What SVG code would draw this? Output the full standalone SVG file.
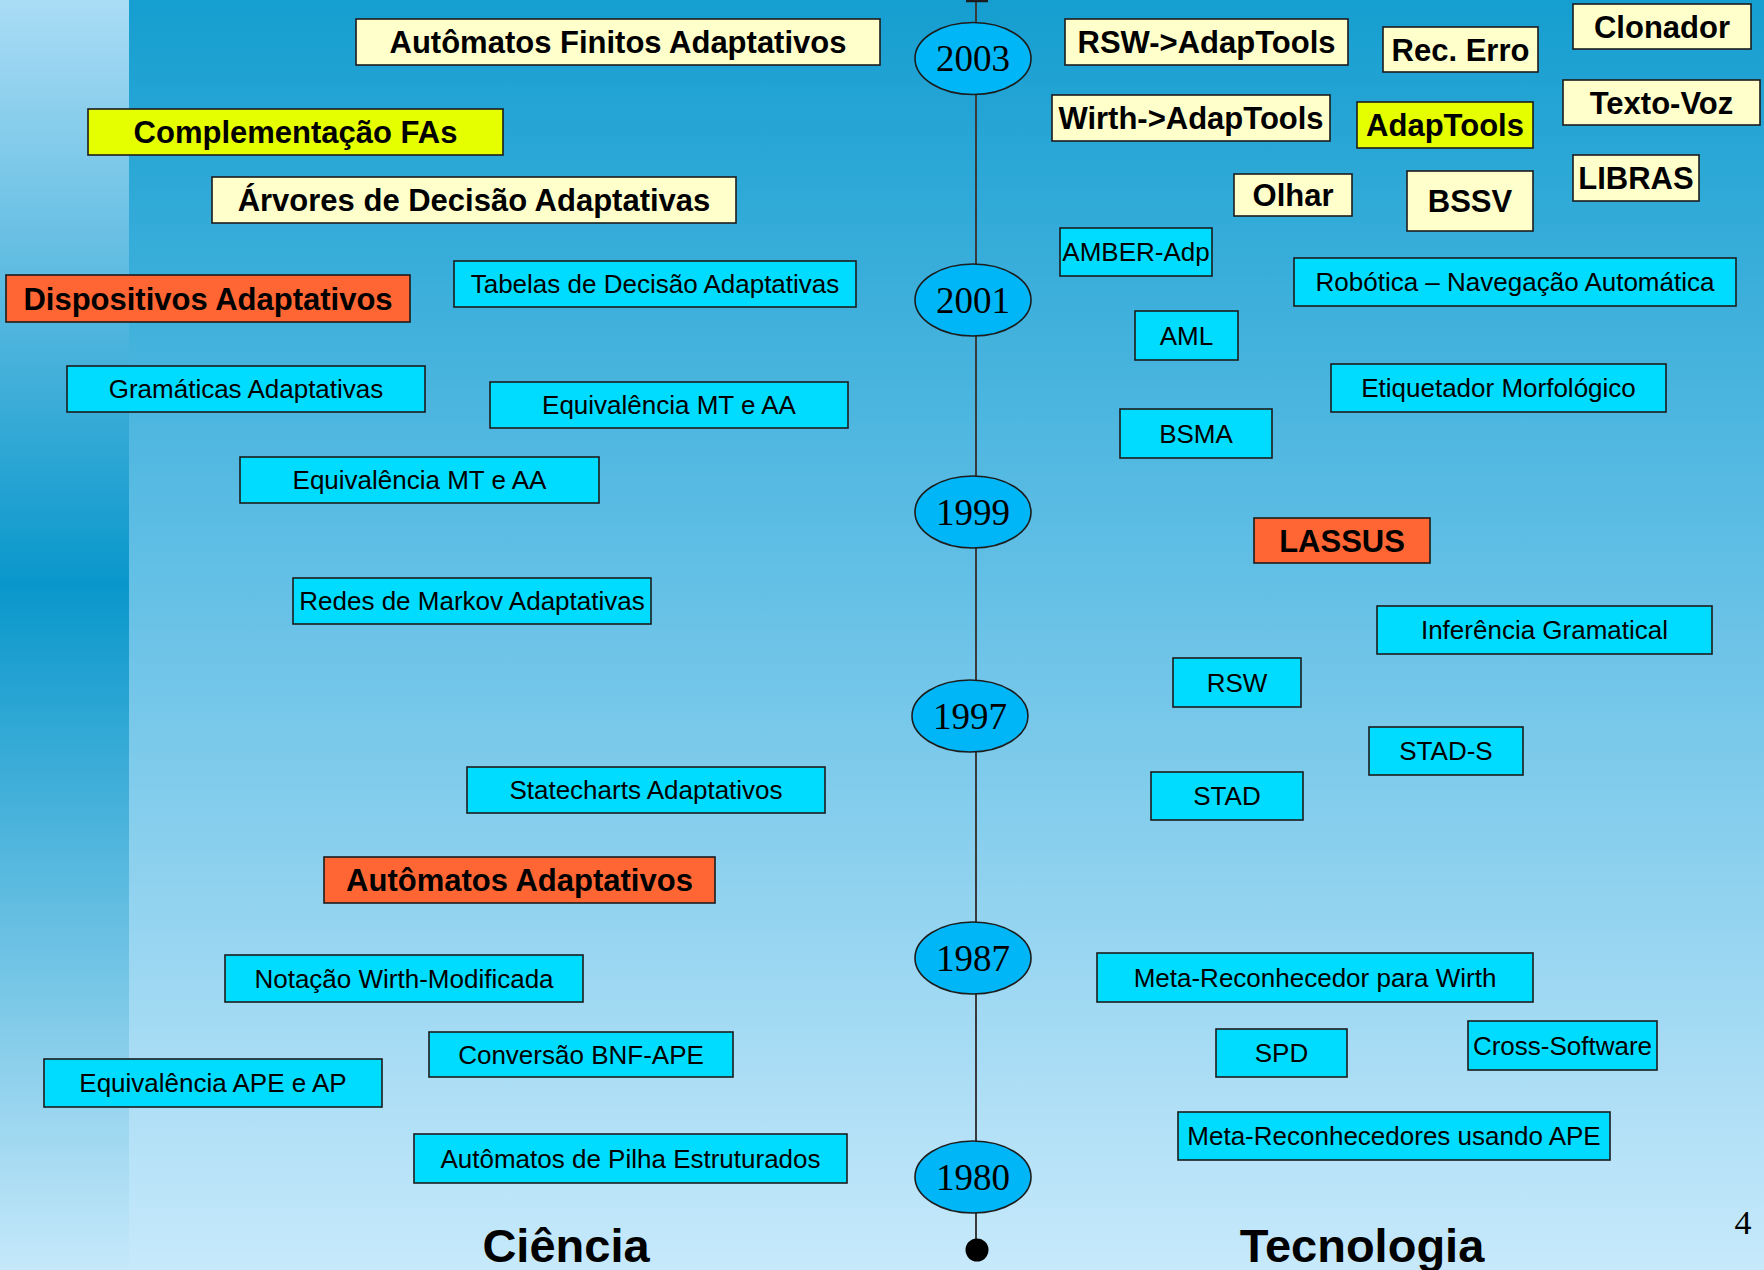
<svg xmlns="http://www.w3.org/2000/svg" width="1764" height="1270" viewBox="0 0 1764 1270">
  <defs>
    <linearGradient id="bgMain" x1="0" y1="0" x2="0" y2="1">
      <stop offset="0" stop-color="#159ed0"/>
      <stop offset="0.45" stop-color="#62bfe5"/>
      <stop offset="1" stop-color="#c7e9fb"/>
    </linearGradient>
    <linearGradient id="bgStrip" x1="0" y1="0" x2="0" y2="1">
      <stop offset="0" stop-color="#aadcf5"/>
      <stop offset="0.46" stop-color="#0997cb"/>
      <stop offset="1" stop-color="#c5e8fa"/>
    </linearGradient>
    <style>
      .box { stroke: #1c1c1c; stroke-width: 1.6; }
      .cyan { fill: #00dcff; }
      .cream { fill: #ffffcc; }
      .lime { fill: #e6ff00; }
      .orange { fill: #ff6633; }
      .t { font-family: "Liberation Sans", Arial, sans-serif; font-size: 26px; fill: #000; text-anchor: middle; }
      .tb { font-family: "Liberation Sans", Arial, sans-serif; font-size: 31px; font-weight: bold; fill: #000; text-anchor: middle; }
      .year { fill: #00b6f6; stroke: #1c1c1c; stroke-width: 1.6; }
      .yt { font-family: "Liberation Serif", "Times New Roman", serif; font-size: 37px; fill: #000; text-anchor: middle; }
      .head { font-family: "Liberation Sans", Arial, sans-serif; font-size: 47px; font-weight: bold; fill: #000; text-anchor: middle; }
    </style>
  </defs>

  <!-- background -->
  <rect x="0" y="0" width="1764" height="1270" fill="url(#bgMain)"/>
  <rect x="0" y="0" width="129" height="1270" fill="url(#bgStrip)"/>

  <!-- timeline axis -->
  <g id="connectors">
    <line x1="976" y1="1" x2="976" y2="1245" stroke="#3a3a3a" stroke-width="2"/>
    <line x1="966" y1="1" x2="988" y2="1" stroke="#1c1c1c" stroke-width="2.5"/>
    <circle cx="977" cy="1250" r="11.5" fill="#000"/>
  </g>

  <!-- years -->
  <g id="y2003"><ellipse class="year" cx="973" cy="58.5" rx="58" ry="36"/><text class="yt" x="973" y="71">2003</text></g>
  <g id="y2001"><ellipse class="year" cx="973" cy="300" rx="58" ry="36"/><text class="yt" x="973" y="312.5">2001</text></g>
  <g id="y1999"><ellipse class="year" cx="973" cy="512" rx="58" ry="36"/><text class="yt" x="973" y="524.5">1999</text></g>
  <g id="y1997"><ellipse class="year" cx="970" cy="716" rx="58" ry="36"/><text class="yt" x="970" y="728.5">1997</text></g>
  <g id="y1987"><ellipse class="year" cx="973" cy="958" rx="58" ry="36"/><text class="yt" x="973" y="970.5">1987</text></g>
  <g id="y1980"><ellipse class="year" cx="973" cy="1177" rx="58" ry="36"/><text class="yt" x="973" y="1189.5">1980</text></g>

  <!-- Ciência column -->
  <g id="afa"><rect class="box cream" x="356" y="19" width="524" height="46"/><text class="tb" x="618" y="53">Autômatos Finitos Adaptativos</text></g>
  <g id="compl"><rect class="box lime" x="88" y="109" width="415" height="46"/><text class="tb" x="295.5" y="143">Complementação FAs</text></g>
  <g id="arvores"><rect class="box cream" x="212" y="177" width="524" height="46"/><text class="tb" x="474" y="211">Árvores de Decisão Adaptativas</text></g>
  <g id="dispositivos"><rect class="box orange" x="6" y="275" width="404" height="47"/><text class="tb" x="208" y="309.5">Dispositivos Adaptativos</text></g>
  <g id="tabelas"><rect class="box cyan" x="454" y="261" width="402" height="46"/><text class="t" x="655" y="293">Tabelas de Decisão Adaptativas</text></g>
  <g id="gramaticas"><rect class="box cyan" x="67" y="366" width="358" height="46"/><text class="t" x="246" y="398">Gramáticas Adaptativas</text></g>
  <g id="equiv1"><rect class="box cyan" x="490" y="382" width="358" height="46"/><text class="t" x="669" y="414">Equivalência MT e AA</text></g>
  <g id="equiv2"><rect class="box cyan" x="240" y="457" width="359" height="46"/><text class="t" x="419.5" y="489">Equivalência MT e AA</text></g>
  <g id="redes"><rect class="box cyan" x="293" y="578" width="358" height="46"/><text class="t" x="472" y="610">Redes de Markov Adaptativas</text></g>
  <g id="statecharts"><rect class="box cyan" x="467" y="767" width="358" height="46"/><text class="t" x="646" y="799">Statecharts Adaptativos</text></g>
  <g id="automatos"><rect class="box orange" x="324" y="857" width="391" height="46"/><text class="tb" x="519.5" y="891">Autômatos Adaptativos</text></g>
  <g id="notacao"><rect class="box cyan" x="225" y="955" width="358" height="47"/><text class="t" x="404" y="987.5">Notação Wirth-Modificada</text></g>
  <g id="conversao"><rect class="box cyan" x="429" y="1032" width="304" height="45"/><text class="t" x="581" y="1063.5">Conversão BNF-APE</text></g>
  <g id="equivape"><rect class="box cyan" x="44" y="1059" width="338" height="48"/><text class="t" x="213" y="1092">Equivalência APE e AP</text></g>
  <g id="pilha"><rect class="box cyan" x="414" y="1134" width="433" height="49"/><text class="t" x="630.5" y="1167.5">Autômatos de Pilha Estruturados</text></g>

  <!-- Tecnologia column -->
  <g id="rswadap"><rect class="box cream" x="1065" y="19" width="283" height="46"/><text class="tb" x="1206.5" y="53">RSW-&gt;AdapTools</text></g>
  <g id="recerro"><rect class="box cream" x="1383" y="27" width="155" height="45"/><text class="tb" x="1460.5" y="60.5">Rec. Erro</text></g>
  <g id="clonador"><rect class="box cream" x="1573" y="4" width="178" height="45"/><text class="tb" x="1662" y="37.5">Clonador</text></g>
  <g id="wirthadap"><rect class="box cream" x="1052" y="95" width="278" height="46"/><text class="tb" x="1191" y="129">Wirth-&gt;AdapTools</text></g>
  <g id="adaptools"><rect class="box lime" x="1357" y="102" width="176" height="46"/><text class="tb" x="1445" y="136">AdapTools</text></g>
  <g id="textovoz"><rect class="box cream" x="1563" y="80" width="197" height="45"/><text class="tb" x="1661.5" y="113.5">Texto-Voz</text></g>
  <g id="olhar"><rect class="box cream" x="1234" y="174" width="118" height="42"/><text class="tb" x="1293" y="206">Olhar</text></g>
  <g id="bssv"><rect class="box cream" x="1407" y="171" width="126" height="60"/><text class="tb" x="1470" y="212">BSSV</text></g>
  <g id="libras"><rect class="box cream" x="1573" y="155" width="126" height="46"/><text class="tb" x="1636" y="189">LIBRAS</text></g>
  <g id="amber"><rect class="box cyan" x="1060" y="228" width="152" height="48"/><text class="t" x="1136" y="261">AMBER-Adp</text></g>
  <g id="robotica"><rect class="box cyan" x="1294" y="258" width="442" height="48"/><text class="t" x="1515" y="291">Robótica – Navegação Automática</text></g>
  <g id="aml"><rect class="box cyan" x="1135" y="311" width="103" height="49"/><text class="t" x="1186.5" y="344.5">AML</text></g>
  <g id="etiquetador"><rect class="box cyan" x="1331" y="364" width="335" height="48"/><text class="t" x="1498.5" y="397">Etiquetador Morfológico</text></g>
  <g id="bsma"><rect class="box cyan" x="1120" y="409" width="152" height="49"/><text class="t" x="1196" y="442.5">BSMA</text></g>
  <g id="lassus"><rect class="box orange" x="1254" y="518" width="176" height="45"/><text class="tb" x="1342" y="551.5">LASSUS</text></g>
  <g id="inferencia"><rect class="box cyan" x="1377" y="606" width="335" height="48"/><text class="t" x="1544.5" y="639">Inferência Gramatical</text></g>
  <g id="rsw"><rect class="box cyan" x="1173" y="658" width="128" height="49"/><text class="t" x="1237" y="691.5">RSW</text></g>
  <g id="stads"><rect class="box cyan" x="1369" y="727" width="154" height="48"/><text class="t" x="1446" y="760">STAD-S</text></g>
  <g id="stad"><rect class="box cyan" x="1151" y="772" width="152" height="48"/><text class="t" x="1227" y="805">STAD</text></g>
  <g id="metawirth"><rect class="box cyan" x="1097" y="953" width="436" height="49"/><text class="t" x="1315" y="986.5">Meta-Reconhecedor para Wirth</text></g>
  <g id="spd"><rect class="box cyan" x="1216" y="1029" width="131" height="48"/><text class="t" x="1281.5" y="1062">SPD</text></g>
  <g id="cross"><rect class="box cyan" x="1468" y="1021" width="189" height="49"/><text class="t" x="1562.5" y="1054.5">Cross-Software</text></g>
  <g id="metaape"><rect class="box cyan" x="1178" y="1112" width="432" height="48"/><text class="t" x="1394" y="1145">Meta-Reconhecedores usando APE</text></g>

  <!-- column headings and page number -->
  <text class="head" x="566" y="1262">Ciência</text>
  <text class="head" x="1362" y="1262">Tecnologia</text>
  <text x="1743" y="1234" font-family="'Liberation Serif', 'Times New Roman', serif" font-size="34" text-anchor="middle" fill="#000">4</text>
</svg>
